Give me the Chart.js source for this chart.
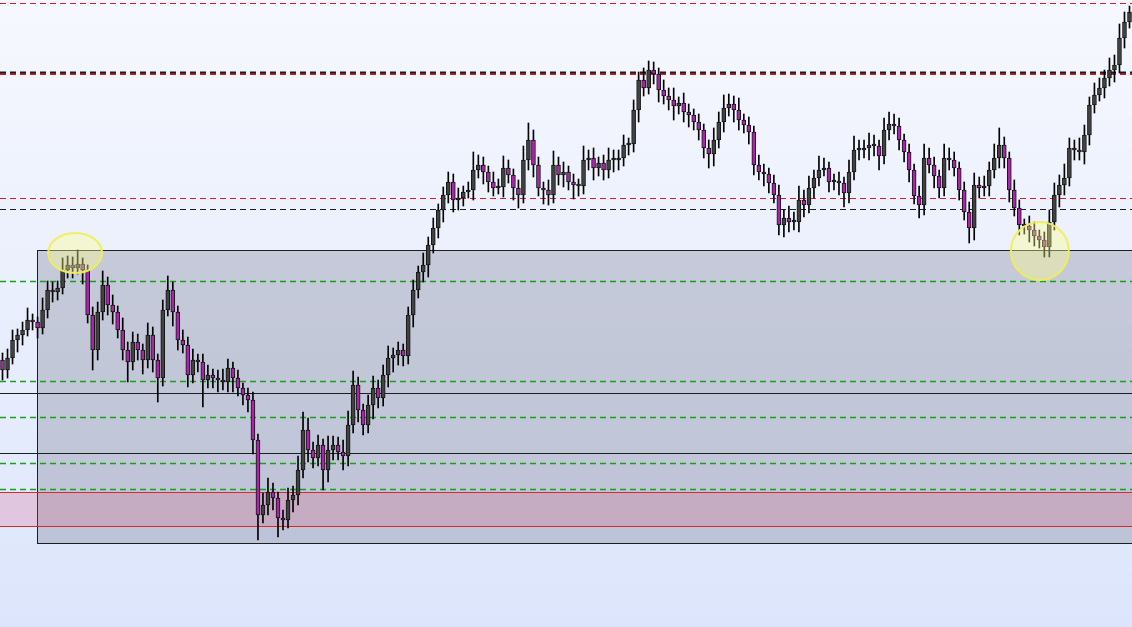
<!DOCTYPE html>
<html>
<head>
<meta charset="utf-8">
<title>Price chart</title>
<script src="https://cdn.jsdelivr.net/npm/chart.js@4.4.1/dist/chart.umd.min.js"></script>
<style>
  html, body { margin: 0; padding: 0; overflow: hidden; background: #eef2fd; }
  #wrap { position: relative; width: 1132px; height: 627px; }
</style>
</head>
<body>
<div id="wrap"><canvas id="priceChart"></canvas></div>
<script>
// Price data (points), one candle per bar, open = previous close
const firstOpen = 267;

const closes = [
  257, 269, 287, 292, 297, 307, 305, 299, 317, 337,
  335, 339, 357, 362, 359, 363, 357, 312, 277, 315,
  342, 322, 315, 297, 277, 265, 285, 277, 267, 292,
  267, 249, 317, 337, 315, 287, 282, 252, 267, 265,
  247, 252, 249, 247, 245, 259, 249, 239, 232, 227,
  187, 112, 122, 135, 129, 109, 107, 127, 132, 157,
  197, 177, 169, 182, 157, 177, 182, 175, 171, 202,
  242, 217, 202, 222, 239, 229, 252, 269, 272, 277,
  271, 312, 337, 355, 362, 382, 399, 417, 432, 445,
  427, 429, 435, 437, 457, 462, 455, 445, 439, 440,
  459, 452, 439, 432, 467, 487, 462, 439, 437, 432,
  462, 452, 455, 445, 442, 441, 467, 469, 459, 464,
  457, 467, 467, 469, 482, 483, 517, 547, 539, 557,
  553, 537, 531, 527, 521, 524, 515, 512, 505, 497,
  479, 473, 487, 505, 519, 523, 517, 507, 502, 495,
  462, 455, 453, 444, 432, 402, 409, 405, 405, 427,
  422, 439, 449, 457, 459, 445, 445, 444, 434, 455,
  477, 477, 479, 482, 481, 471, 497, 503, 501, 487,
  475, 457, 431, 422, 469, 462, 451, 439, 469, 467,
  459, 437, 415, 399, 442, 439, 441, 457, 469, 482,
  469, 437, 419, 402, 401, 397, 391, 387, 380, 405,
  432, 442, 449, 479, 477, 475, 492, 522, 532, 539,
  549, 557, 562, 589, 605, 615
];

// wick length above the body top
const upperWicks = [
  7, 9, 10, 6, 8, 12, 6, 5, 12, 9,
  8, 7, 12, 9, 8, 14, 6, 5, 8, 10,
  14, 8, 10, 6, 12, 8, 10, 8, 6, 12,
  8, 6, 10, 14, 8, 6, 10, 8, 11, 6,
  8, 10, 6, 8, 11, 9, 6, 8, 5, 7,
  8, 6, 12, 14, 9, 6, 8, 12, 9, 14,
  18, 12, 8, 10, 6, 14, 9, 8, 12, 14,
  14, 8, 6, 10, 12, 8, 10, 12, 7, 8,
  6, 8, 10, 6, 12, 8, 10, 6, 8, 10,
  8, 10, 6, 8, 18, 10, 8, 6, 10, 8,
  12, 8, 6, 8, 14, 17, 10, 8, 6, 10,
  14, 8, 10, 6, 8, 6, 14, 8, 10, 6,
  8, 12, 10, 8, 10, 6, 10, 8, 12, 9,
  8, 6, 10, 8, 12, 6, 10, 8, 6, 8,
  6, 8, 12, 10, 13, 10, 8, 12, 6, 8,
  6, 10, 8, 6, 8, 10, 8, 12, 10, 14,
  10, 12, 8, 14, 10, 6, 8, 10, 6, 12,
  14, 10, 8, 12, 10, 6, 12, 12, 10, 8,
  6, 8, 6, 10, 14, 10, 8, 6, 14, 10,
  8, 6, 8, 10, 12, 8, 10, 8, 14, 17,
  8, 6, 10, 8, 6, 10, 8, 6, 8, 12,
  12, 10, 14, 10, 8, 12, 10, 8, 12, 10,
  8, 12, 10, 14, 10, 6
];

// wick length below the body bottom
const lowerWicks = [
  10, 8, 6, 12, 10, 6, 8, 10, 6, 8,
  10, 8, 6, 8, 10, 6, 14, 8, 20, 10,
  8, 10, 12, 8, 10, 20, 8, 10, 14, 8,
  12, 24, 8, 6, 14, 10, 8, 12, 8, 10,
  27, 8, 10, 12, 8, 10, 14, 8, 10, 12,
  14, 25, 8, 10, 12, 19, 10, 8, 12, 10,
  8, 12, 10, 8, 20, 12, 10, 8, 14, 10,
  8, 12, 10, 8, 14, 10, 8, 12, 14, 10,
  10, 8, 12, 8, 10, 12, 8, 10, 12, 8,
  12, 10, 8, 6, 10, 8, 12, 10, 8, 6,
  10, 8, 12, 13, 8, 10, 12, 8, 14, 10,
  8, 10, 12, 8, 14, 10, 8, 10, 12, 8,
  10, 8, 12, 10, 8, 10, 8, 12, 8, 6,
  10, 12, 8, 10, 14, 8, 10, 12, 8, 10,
  10, 14, 12, 8, 10, 8, 12, 10, 8, 12,
  10, 8, 12, 10, 8, 10, 12, 10, 8, 10,
  12, 8, 10, 8, 6, 10, 8, 12, 14, 10,
  8, 10, 8, 12, 10, 14, 8, 10, 8, 10,
  10, 12, 8, 13, 10, 8, 12, 10, 8, 10,
  8, 10, 8, 15, 12, 10, 8, 10, 8, 10,
  10, 12, 8, 10, 8, 12, 10, 8, 10, 10,
  8, 12, 10, 8, 10, 8, 12, 10, 8, 6,
  10, 8, 12, 8, 10, 6
];

// Horizontal levels (price)
const redDashedLevels = [624, 429];
const blackDashedLevels = [418];
const keyLevel = 554;             // red + black double dashed line
const greenDashedLevels = [346, 246, 210, 164, 138];
const solidLevels = [234, 174];
const redZone = [101, 135];       // [bottom, top]
const rangeBox = { fromIndex: 6.9, bottom: 84, top: 377 };
// highlighted swing points: [candle index, price]
const markers = [[14.5, 374], [207.1, 376]];

const COLORS = {
  up: '#424242',
  down: '#a826a8',
  outline: '#151515',
  red: '#d81c30',
  green: '#18a018',
  black: '#1e1e1e'
};

const opens = closes.map((c, i) => i === 0 ? firstOpen : closes[i - 1]);
const highs = closes.map((c, i) => Math.max(opens[i], c) + upperWicks[i]);
const lows = closes.map((c, i) => Math.min(opens[i], c) - lowerWicks[i]);
const labels = closes.map((c, i) => String(i));

const backgroundPlugin = {
  id: 'background',
  beforeDraw(chart) {
    const { ctx, width, height } = chart;
    const g = ctx.createLinearGradient(0, 0, 0, height);
    g.addColorStop(0, '#f6f8fe');
    g.addColorStop(1, '#dce5fb');
    ctx.save();
    ctx.fillStyle = g;
    ctx.fillRect(0, 0, width, height);
    ctx.restore();
  }
};

function hLine(ctx, y, x0, x1, color, width, dash) {
  ctx.beginPath();
  ctx.strokeStyle = color;
  ctx.lineWidth = width;
  ctx.setLineDash(dash || []);
  ctx.moveTo(x0, y);
  ctx.lineTo(x1, y);
  ctx.stroke();
}

const levelsPlugin = {
  id: 'levels',
  beforeDatasetsDraw(chart) {
    const { ctx, width } = chart;
    const xs = chart.scales.x, ys = chart.scales.y;
    const py = v => Math.round(ys.getPixelForValue(v)) + 0.5;
    ctx.save();

    // range box
    const bx = Math.round(xs.getPixelForValue(rangeBox.fromIndex)) + 0.5;
    const bTop = py(rangeBox.top), bBot = py(rangeBox.bottom);
    ctx.fillStyle = 'rgba(130, 132, 152, 0.36)';
    ctx.fillRect(bx, bTop, width + 10 - bx, bBot - bTop);
    ctx.strokeStyle = COLORS.black;
    ctx.lineWidth = 1;
    ctx.strokeRect(bx, bTop, width + 10 - bx, bBot - bTop);

    // red zone
    const zTop = py(redZone[1]), zBot = py(redZone[0]);
    ctx.fillStyle = 'rgba(220, 90, 130, 0.24)';
    ctx.fillRect(0, zTop, width, zBot - zTop);
    hLine(ctx, zTop, 0, width, '#d42a2a', 1);
    hLine(ctx, zBot, 0, width, '#d42a2a', 1);

    solidLevels.forEach(v => hLine(ctx, py(v), 0, width, COLORS.black, 1));
    greenDashedLevels.forEach(v => hLine(ctx, py(v), 0, width, COLORS.green, 1.3, [6, 4]));
    redDashedLevels.forEach(v => hLine(ctx, py(v), 0, width, COLORS.red, 1.2, [6, 4]));
    blackDashedLevels.forEach(v => hLine(ctx, py(v), 0, width, COLORS.black, 1.2, [6, 4]));

    const ky = ys.getPixelForValue(keyLevel);
    hLine(ctx, ky + 1, 0, width, COLORS.red, 2, [6, 4]);
    hLine(ctx, ky - 0.5, 0, width, COLORS.black, 2, [6, 4]);
    ctx.restore();
  },
  afterDatasetsDraw(chart) {
    const { ctx } = chart;
    const xs = chart.scales.x, ys = chart.scales.y;
    const radii = [[27, 20], [29, 29]];
    ctx.save();
    markers.forEach((m, i) => {
      ctx.beginPath();
      ctx.ellipse(xs.getPixelForValue(m[0]), ys.getPixelForValue(m[1]), radii[i][0], radii[i][1], 0, 0, Math.PI * 2);
      ctx.fillStyle = 'rgba(255, 255, 140, 0.38)';
      ctx.fill();
      ctx.strokeStyle = 'rgba(238, 238, 90, 0.95)';
      ctx.lineWidth = 2;
      ctx.stroke();
    });
    ctx.restore();
  }
};

new Chart(document.getElementById('priceChart'), {
  type: 'bar',
  data: {
    labels: labels,
    datasets: [
      {
        label: 'body',
        data: closes.map((c, i) => [opens[i], c]),
        backgroundColor: closes.map((c, i) => c >= opens[i] ? COLORS.up : COLORS.down),
        borderColor: COLORS.outline,
        borderWidth: 1,
        borderSkipped: false,
        barThickness: 4,
        minBarLength: 2,
        grouped: false,
        order: 0
      },
      {
        label: 'wick',
        data: closes.map((c, i) => [lows[i], highs[i]]),
        backgroundColor: '#000000',
        borderWidth: 0,
        barThickness: 1,
        grouped: false,
        order: 1
      }
    ]
  },
  options: {
    responsive: true,
    maintainAspectRatio: false,
    animation: false,
    layout: { padding: 0 },
    plugins: {
      legend: { display: false },
      tooltip: { enabled: false }
    },
    scales: {
      x: { type: 'category', display: false, offset: true, grid: { display: false } },
      y: { display: false, min: 0, max: 627, grid: { display: false } }
    }
  },
  plugins: [backgroundPlugin, levelsPlugin]
});
</script>
</body>
</html>
